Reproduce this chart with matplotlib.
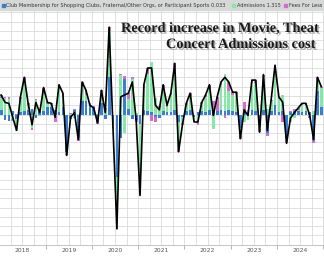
import matplotlib
matplotlib.use("Agg")
import matplotlib.pyplot as plt
import matplotlib.patheffects as pe
from matplotlib.patches import Rectangle
import numpy as np

# Monthly data Jan 2018 .. Dec 2024 (contribution units)
years = ["2018", "2019", "2020", "2021", "2022", "2023", "2024"]

club = [0.5, -0.6, -0.7, 0.4, -0.5, 0.3, 0.4, 0.5, 0.6, -0.4,
        0.3, 0.4, 0.8, 0.8, 0.5, 0.3, 0.8, -4.0, -0.5, 0.5,
        -2.5, 1.5, 1.4, 1.0, 0.8, -0.8, 1.2, -0.5, 4.0, -1.0,
        -6.7, -2.5, 3.8, 0.6, -0.5, -0.6, -1.0, 0.5, 0.4, 0.3,
        -0.3, -0.4, 0.4, 0.3, 0.3, 0.5, -0.8, -0.3, 0.4, 0.5,
        -0.3, 0.3, 0.4, 0.3, 0.5, 0.3, 0.4, 0.5, 0.4, 0.5,
        0.4, 0.3, -1.5, 0.4, 0.3, 0.5, 0.4, -0.6, 0.5, -2.0,
        0.4, 1.0, 0.3, 0.4, -2.5, 0.3, 0.4, 0.4, 0.3, 0.4,
        0.3, -2.7, 2.5, 0.8]

admissions = [1.3, 1.8, 1.7, -0.5, -1.3, 1.4, 3.3, 0.5, -1.5, 1.6,
              -0.2, 1.9, 0.3, 0.2, -0.2, 2.7, 1.2, -0.2, 0.1, -0.4,
              0.1, 1.7, 0.7, -0.2, -0.2, 0.1, 1.1, 0.6, 5.0, -0.2,
              -5.2, 4.2, -2.0, 1.1, 3.8, 0.2, -7.3, 2.4, 4.0, 5.4,
              1.8, 0.8, 2.5, 0.5, 1.8, 4.6, -2.9, -0.6, 0.6, 1.5,
              -0.3, -0.9, 0.7, 1.6, 2.4, -1.6, 0.0, 2.7, 4.0, 2.0,
              1.7, 1.9, -0.8, -0.8, -0.6, 2.9, 3.0, -1.0, 3.5, 0.6,
              1.0, 4.0, 1.4, 1.7, -0.3, -0.8, -0.4, 0.1, 0.7, 0.6,
              -0.2, 0.4, 1.2, 2.0]

fees = [0.3, 0.1, 0.2, -0.2, 0.1, 0.2, 0.3, 0.2, -0.2, 0.1,
        0.1, 0.6, 0.2, 0.2, -0.6, 0.2, 0.3, -0.2, 0.1, 0.1,
        -0.3, 0.3, 0.5, 0.2, 0.1, -0.2, 0.3, 0.1, 0.4, -0.3,
        -0.4, 0.2, 0.3, 0.6, 0.2, -0.2, -0.4, 0.3, 0.6, -0.7,
        -0.5, 0.1, 0.3, 0.2, 0.2, 0.4, -0.3, -0.2, 0.2, 0.3,
        -0.2, -0.2, 0.2, 0.2, 0.3, 1.2, 1.5, 0.3, -0.4, 1.0,
        0.3, 0.2, -0.3, 0.9, 0.2, 0.3, 0.3, -0.3, 0.3, -0.3,
        0.2, 0.3, 0.2, -0.8, -0.3, 0.1, 0.2, 0.2, 0.2, 0.2,
        -0.2, -0.4, 0.3, 0.2]

labels = ["Club Membership for Shopping Clubs, Fraternal/Other Orgs, or Participant Sports 0.033",
          "Admissions 1.315",
          "Fees For Less"]
colors = ["#3b7dd0", "#86e8a6", "#d46cd0"]
title_lines = ["Record increase in Movie, Theat", "Concert Admissions cost"]

series = list(zip(labels, [club, admissions, fees], colors))

n = len(club)
x = np.arange(n)
total = np.array(club) + np.array(admissions) + np.array(fees)

fig = plt.figure(figsize=(3.24, 2.57), dpi=100)
ax = fig.add_axes([0, 12/257, 1, 1 - 12/257 - 11/257])

pos_bottom = np.zeros(n)
neg_bottom = np.zeros(n)
for name, vals, col in series:
    v = np.array(vals)
    bottoms = np.where(v >= 0, pos_bottom, neg_bottom)
    ax.bar(x, v, bottom=bottoms, width=0.7, color=col, linewidth=0, zorder=2)
    pos_bottom = pos_bottom + np.where(v >= 0, v, 0)
    neg_bottom = neg_bottom + np.where(v < 0, v, 0)

ax.plot(x, total, color="black", lw=1.2, zorder=3)

ax.set_xlim(-0.3, 83.7)
ax.set_ylim(-14.03, 11.13)

for g in np.arange(-14, 12, 1):
    ax.axhline(g, color="#dadada", lw=0.6, zorder=0)
for q in np.arange(-0.5, 84, 3):
    ax.axvline(q, color="#dadada", lw=0.6, zorder=0)

ax.set_yticks([])
ax.set_xticks([12 * k + 5.5 for k in range(len(years))])
ax.set_xticklabels(years, fontsize=4.3, color="#555555")
ax.set_xticks([12 * k - 0.5 for k in range(1, 8)], minor=True)
ax.tick_params(axis="x", which="major", length=0, pad=2.5)
ax.tick_params(axis="x", which="minor", length=3, color="#999999", width=0.5)
for s in ["left", "right", "top"]:
    ax.spines[s].set_visible(False)
ax.spines["bottom"].set_color("#bbbbbb")
ax.spines["bottom"].set_linewidth(0.6)

# legend bar
fig.patches.append(Rectangle((0, 1 - 10/257), 1, 10/257, transform=fig.transFigure,
                             color="#d6d8d8", zorder=0))
ly = 1 - 5.2/257
legend_pos = [(2, 6), (232, 237), (284, 289)]
for (sx, tx), (label, vals, col) in zip(legend_pos, series):
    fig.patches.append(Rectangle((sx/324, ly - 1.6/257), 3/324, 3.2/257,
                                 transform=fig.transFigure, color=col, zorder=1))
    fig.text(tx/324, ly, label, fontsize=3.6, color="#333333", va="center", ha="left")

# title
shadow = [pe.withSimplePatchShadow(offset=(1.2, -1.2), shadow_rgbFace="#777777", alpha=0.6)]
fig.text(121/324, 1 - 32/257, title_lines[0], family="Liberation Serif",
         weight="bold", fontsize=10.3, color="#1a1a1a", va="baseline", ha="left", path_effects=shadow)
fig.text(166/324, 1 - 48/257, title_lines[1], family="Liberation Serif",
         weight="bold", fontsize=10.3, color="#1a1a1a", va="baseline", ha="left", path_effects=shadow)

fig.savefig("out.png", dpi=100)
